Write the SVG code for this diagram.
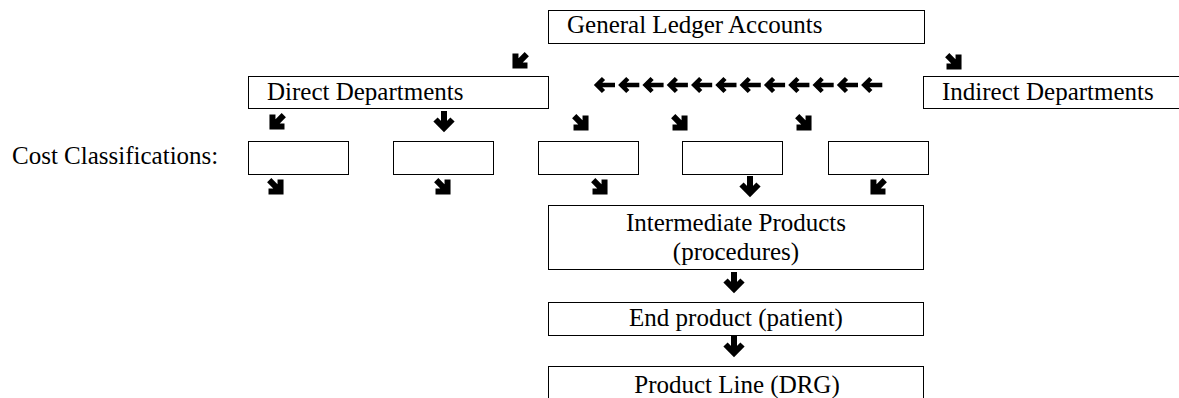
<svg xmlns="http://www.w3.org/2000/svg" xmlns:xlink="http://www.w3.org/1999/xlink" width="1179" height="398" viewBox="0 0 1179 398">
  <style>
    .box { fill: #ffffff; stroke: #000000; stroke-width: 1; }
    .lbl { font-family: "Liberation Serif", "Times New Roman", serif; font-size: 25px; fill: #000000; }
    .mid { text-anchor: middle; }
  </style>
  <defs>
    <path id="aDown" fill="none" stroke="#000000" stroke-width="6" stroke-linejoin="miter" stroke-miterlimit="10" d="M0,-12 V5 M-8.5,-3.5 L0,5 L8.5,-3.5"/>
    <path id="aDiag" fill="none" stroke="#000000" stroke-width="6" stroke-linejoin="miter" stroke-miterlimit="10" d="M0,-11 V5 M-8.5,-3.5 L0,5 L8.5,-3.5"/>
    <path id="aLeft" fill="none" stroke="#000000" stroke-width="4.5" stroke-linejoin="miter" stroke-miterlimit="10" d="M12,0 H-6 M0.5,-6.5 L-6,0 L0.5,6.5"/>
  </defs>
  <rect width="1179" height="398" fill="#ffffff"/>

  <g id="gl">
    <rect class="box" x="548.5" y="10.5" width="376" height="33"/>
    <text class="lbl" x="567" y="33">General Ledger Accounts</text>
  </g>
  <g id="direct">
    <rect class="box" x="248.5" y="76.5" width="300" height="32"/>
    <text class="lbl" x="267" y="100">Direct Departments</text>
  </g>
  <g id="indirect">
    <rect class="box" x="923.5" y="76.5" width="270" height="32"/>
    <text class="lbl" x="942" y="100">Indirect Departments</text>
  </g>
  <g id="costlabel">
    <text class="lbl" x="12" y="164">Cost Classifications:</text>
  </g>
  <g id="cost1"><rect class="box" x="248.5" y="141.5" width="100" height="33"/></g>
  <g id="cost2"><rect class="box" x="393.5" y="141.5" width="100" height="33"/></g>
  <g id="cost3"><rect class="box" x="538.5" y="141.5" width="100" height="33"/></g>
  <g id="cost4"><rect class="box" x="682.5" y="141.5" width="100" height="33"/></g>
  <g id="cost5"><rect class="box" x="828.5" y="141.5" width="100" height="33"/></g>
  <g id="intermediate">
    <rect class="box" x="548.5" y="205.5" width="375" height="64"/>
    <text class="lbl mid" x="736" y="231">Intermediate Products</text>
    <text class="lbl mid" x="736" y="260">(procedures)</text>
  </g>
  <g id="endproduct">
    <rect class="box" x="548.5" y="302.5" width="375" height="33"/>
    <text class="lbl mid" x="736" y="326">End product (patient)</text>
  </g>
  <g id="productline">
    <rect class="box" x="548.5" y="366.5" width="375" height="40"/>
    <text class="lbl mid" x="737" y="393">Product Line (DRG)</text>
  </g>

  <g id="connectors">
    <use xlink:href="#aDiag" transform="translate(519,62) rotate(45)"/>
    <use xlink:href="#aDiag" transform="translate(955,63) rotate(-45)"/>

    <use xlink:href="#aLeft" transform="translate(603,85)"/>
    <use xlink:href="#aLeft" transform="translate(627.3,85)"/>
    <use xlink:href="#aLeft" transform="translate(651.6,85)"/>
    <use xlink:href="#aLeft" transform="translate(675.9,85)"/>
    <use xlink:href="#aLeft" transform="translate(700.2,85)"/>
    <use xlink:href="#aLeft" transform="translate(724.5,85)"/>
    <use xlink:href="#aLeft" transform="translate(748.8,85)"/>
    <use xlink:href="#aLeft" transform="translate(773.1,85)"/>
    <use xlink:href="#aLeft" transform="translate(797.4,85)"/>
    <use xlink:href="#aLeft" transform="translate(821.7,85)"/>
    <use xlink:href="#aLeft" transform="translate(846,85)"/>
    <use xlink:href="#aLeft" transform="translate(870.3,85)"/>

    <use xlink:href="#aDiag" transform="translate(276,123) rotate(45)"/>
    <use xlink:href="#aDown" transform="translate(444,123)"/>
    <use xlink:href="#aDiag" transform="translate(582,124) rotate(-45)"/>
    <use xlink:href="#aDiag" transform="translate(681,124) rotate(-45)"/>
    <use xlink:href="#aDiag" transform="translate(805,124) rotate(-45)"/>

    <use xlink:href="#aDiag" transform="translate(277,188) rotate(-45)"/>
    <use xlink:href="#aDiag" transform="translate(444,188) rotate(-45)"/>
    <use xlink:href="#aDiag" transform="translate(601,188) rotate(-45)"/>
    <use xlink:href="#aDown" transform="translate(750,188)"/>
    <use xlink:href="#aDiag" transform="translate(877,188) rotate(45)"/>

    <use xlink:href="#aDown" transform="translate(734,284)"/>
    <use xlink:href="#aDown" transform="translate(734,348)"/>
  </g>
</svg>
